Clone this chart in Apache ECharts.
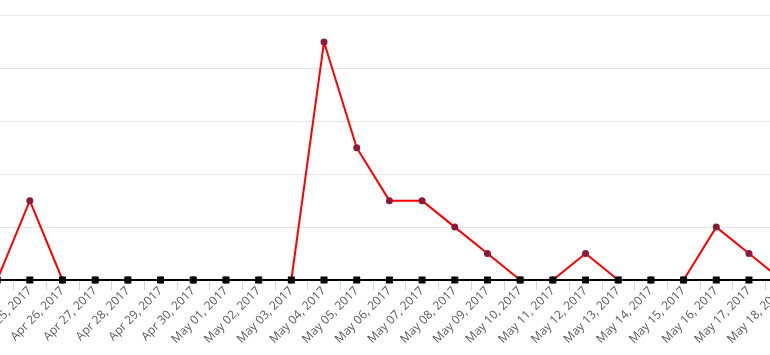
<!DOCTYPE html>
<html>
<head>
<meta charset="utf-8">
<script src="https://cdn.jsdelivr.net/npm/echarts@6/dist/echarts.min.js"></script>
<style>
html,body{margin:0;padding:0;background:#fff;}
#chart{width:770px;height:355px;}
</style>
</head>
<body>
<div id="chart"></div>
<script>
var categories = ["Apr 24, 2017","Apr 25, 2017","Apr 26, 2017","Apr 27, 2017","Apr 28, 2017","Apr 29, 2017","Apr 30, 2017","May 01, 2017","May 02, 2017","May 03, 2017","May 04, 2017","May 05, 2017","May 06, 2017","May 07, 2017","May 08, 2017","May 09, 2017","May 10, 2017","May 11, 2017","May 12, 2017","May 13, 2017","May 14, 2017","May 15, 2017","May 16, 2017","May 17, 2017","May 18, 2017"];
var redValues = [0,3,0,0,0,0,0,0,0,0,9,5,3,3,2,1,0,0,1,0,0,0,2,1,0];
var blackValues = [0,0,0,0,0,0,0,0,0,0,0,0,0,0,0,0,0,0,0,0,0,0,0,0,0];
var yMin = 0, yMax = 10, yInterval = 2;

var chart = echarts.init(document.getElementById('chart'), null, {renderer:'canvas'});
chart.setOption({
  animation:false,
  backgroundColor:'#ffffff',
  grid:{left:-19.2,right:-28,top:15.5,bottom:75,containLabel:false,outerBoundsMode:'none'},
  xAxis:{
    type:'category',
    data:categories,
    boundaryGap:true,
    axisLine:{show:true,lineStyle:{color:'#ccd6eb',width:1}},
    axisTick:{show:true,length:10,alignWithLabel:false,lineStyle:{color:'#ccd6eb',width:1}},
    axisLabel:{rotate:45,interval:0,color:'#5a5a5a',fontSize:12,fontFamily:'Open Sans',margin:9},
    splitLine:{show:false}
  },
  yAxis:{
    type:'value',
    min:yMin,max:yMax,interval:yInterval,
    axisLine:{show:false},axisTick:{show:false},
    axisLabel:{show:false},
    splitLine:{show:true,lineStyle:{color:'#e6e6e6',width:1}}
  },
  series:[
    {
      type:'line',
      data:redValues,
      symbol:'circle',
      symbolSize:7,
      showSymbol:true,
      clip:false,
      itemStyle:{color:'#8b1a3a'},
      lineStyle:{color:'#ff0000',width:2},
      z:2
    },
    {
      type:'line',
      data:blackValues,
      symbol:'rect',
      symbolSize:7,
      clip:false,
      itemStyle:{color:'#000000'},
      lineStyle:{color:'#000000',width:2},
      zlevel:1,
      z:3
    }
  ]
});
</script>
</body>
</html>
